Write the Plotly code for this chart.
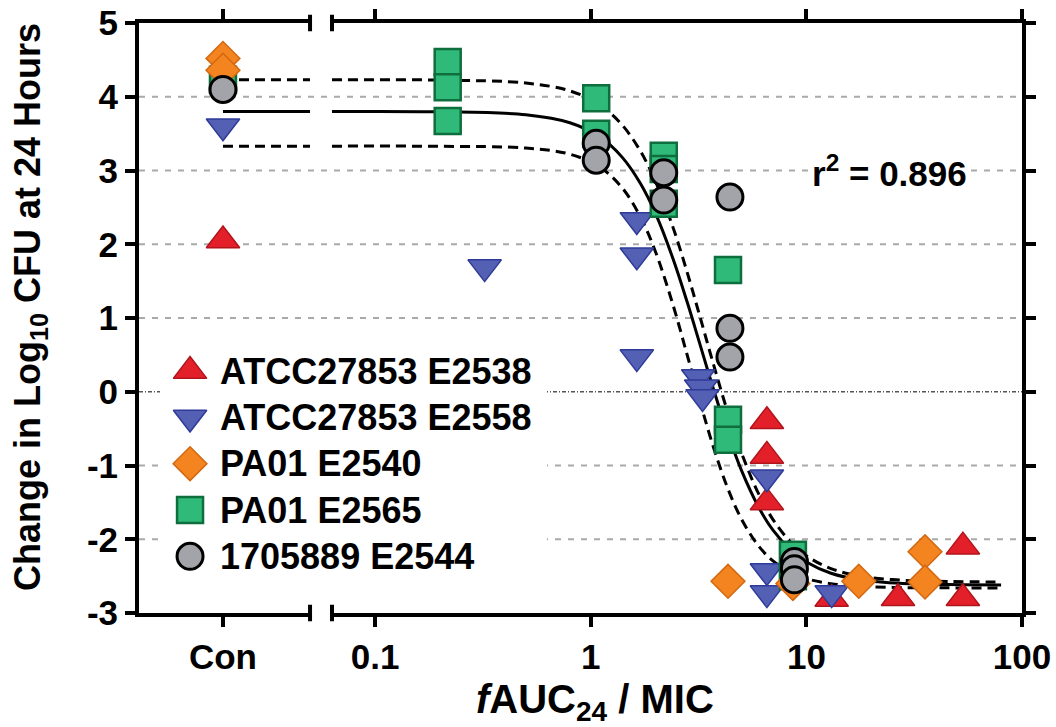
import plotly.graph_objects as go

# ---------------- data ----------------
con_label = "Con"
series_names = ["ATCC27853 E2538", "ATCC27853 E2558", "PA01 E2540", "PA01 E2565", "1705889 E2544"]

red_con_y = [2.05]
red_x = [6.56, 6.56, 6.56, 13.1, 26.6, 53.2, 53.2]
red_y = [-0.40, -0.87, -1.50, -2.81, -2.80, -2.10, -2.80]

blue_con_y = [3.60]
blue_x = [0.322, 1.635, 1.635, 1.635, 3.15, 3.25, 3.30, 6.56, 6.56, 6.56, 13.1]
blue_y = [1.69, 2.33, 1.85, 0.47, 0.20, 0.06, -0.07, -1.16, -2.43, -2.73, -2.73]

orange_con_y = [4.52, 4.36]
orange_x = [4.33, 8.66, 17.5, 35.5, 35.5]
orange_y = [-2.57, -2.60, -2.57, -2.17, -2.58]

green_con_y = [4.23]
green_x = [0.217, 0.217, 0.217, 1.06, 1.06, 2.18, 2.18, 2.18, 4.33, 4.33, 4.33, 8.66, 8.66]
green_y = [4.47, 4.13, 3.67, 3.98, 3.50, 3.20, 3.02, 2.55, 1.65, -0.38, -0.65, -2.21, -2.50]

gray_con_y = [4.10]
gray_x = [1.06, 1.06, 2.18, 2.18, 4.42, 4.42, 4.42, 8.8, 8.8, 8.8]
gray_y = [3.37, 3.14, 2.97, 2.60, 2.64, 0.86, 0.47, -2.30, -2.40, -2.55]

# fitted curve and its confidence band
fit_x = [0.063, 0.2, 0.5, 0.8, 1.1, 1.4, 1.7, 2.0, 2.4, 2.8, 3.2, 3.7, 4.3, 5.0, 6.0, 7.0, 8.5, 10, 13, 18, 28, 45, 80]
fit_y = [3.80, 3.796, 3.755, 3.647, 3.456, 3.178, 2.823, 2.411, 1.814, 1.216, 0.656, 0.044, -0.549, -1.066,
         -1.563, -1.877, -2.154, -2.309, -2.461, -2.552, -2.599, -2.614, -2.619]
upper_y = [4.23, 4.226, 4.186, 4.08, 3.892, 3.616, 3.262, 2.847, 2.239, 1.619, 1.031, 0.38, -0.262, -0.829,
           -1.382, -1.733, -2.047, -2.225, -2.398, -2.502, -2.556, -2.573, -2.579]
lower_y = [3.33, 3.328, 3.304, 3.221, 3.047, 2.763, 2.369, 1.892, 1.189, 0.498, -0.118, -0.745, -1.296, -1.726,
           -2.091, -2.294, -2.454, -2.534, -2.603, -2.639, -2.655, -2.659, -2.66]
con_fit_y = [3.80, 3.80]
con_upper_y = [4.23, 4.23]
con_lower_y = [3.33, 3.33]

y_ticks = [-3, -2, -1, 0, 1, 2, 3, 4, 5]
y_ticktext = ["-3", "-2", "-1", "0", "1", "2", "3", "4", "5"]
x_ticks = [0.1, 1, 10, 100]
x_ticktext = ["0.1", "1", "10", "100"]
r2_text = "r<sup>2</sup> = 0.896"

# ---------------- styles ----------------
FONT = "Liberation Sans, Arial, sans-serif"
styles = [
    dict(symbol="triangle-up", size=29, color="#e3202a", line=dict(color="#b0151c", width=1.5)),
    dict(symbol="triangle-down", size=29, color="#5360b4", line=dict(color="#2e3b98", width=1.5)),
    dict(symbol="diamond", size=26, color="#f3841f", line=dict(color="#d46810", width=1.5)),
    dict(symbol="square", size=26, color="#30ba7a", line=dict(color="#0f6e3e", width=2.5)),
    dict(symbol="circle", size=26, color="#a3a3aa", line=dict(color="#000000", width=3)),
]
con_data = [red_con_y, blue_con_y, orange_con_y, green_con_y, gray_con_y]
log_data = [(red_x, red_y), (blue_x, blue_y), (orange_x, orange_y), (green_x, green_y), (gray_x, gray_y)]

fig = go.Figure()

# fitted lines (under markers)
for ys, cy, dash in [(upper_y, con_upper_y, "10px,6px"), (lower_y, con_lower_y, "10px,6px"), (fit_y, con_fit_y, "solid")]:
    fig.add_trace(go.Scatter(x=[0, 1.3], y=cy, mode="lines", xaxis="x", yaxis="y",
                             line=dict(color="black", width=3, dash=dash), showlegend=False, hoverinfo="skip"))
    fig.add_trace(go.Scatter(x=fit_x, y=ys, mode="lines", xaxis="x2", yaxis="y2",
                             line=dict(color="black", width=3, dash=dash, shape="spline", smoothing=1),
                             showlegend=False, hoverinfo="skip"))

# markers: draw order red, blue, green, orange, gray
for i in [0, 1, 3, 2, 4]:
    st = styles[i]
    fig.add_trace(go.Scatter(x=[0] * len(con_data[i]), y=con_data[i], mode="markers", xaxis="x", yaxis="y",
                             marker=st, name=series_names[i], showlegend=False))
    fig.add_trace(go.Scatter(x=log_data[i][0], y=log_data[i][1], mode="markers", xaxis="x2", yaxis="y2",
                             marker=st, name=series_names[i], showlegend=False))

# custom legend (large symbols) on a hidden full-size axis pair
leg_x = 0.0578
leg_y0 = 0.410
leg_dy = 0.0785
for i, name in enumerate(series_names):
    fig.add_trace(go.Scatter(x=[leg_x], y=[leg_y0 - i * leg_dy], mode="markers", xaxis="x3", yaxis="y3",
                             marker=styles[i], showlegend=False, hoverinfo="skip"))

annotations = []
for i, name in enumerate(series_names):
    annotations.append(dict(x=0.0895, y=leg_y0 - i * leg_dy, xref="paper", yref="paper", xanchor="left",
                            yanchor="middle", text="<b>" + name + "</b>", showarrow=False,
                            font=dict(family=FONT, size=36, color="black")))

annotations.append(dict(x=0.8505, y=0.749, xref="paper", yref="paper", xanchor="center", yanchor="middle",
                        text="<b>" + r2_text + "</b>", showarrow=False, bgcolor="white", borderpad=3,
                        font=dict(family=FONT, size=35, color="black")))
annotations.append(dict(x=-0.1234, y=0.5186, xref="paper", yref="paper", xanchor="center", yanchor="middle",
                        textangle=-90, text="<b>Change in Log<sub>10</sub> CFU at 24 Hours</b>", showarrow=False,
                        font=dict(family=FONT, size=36, color="black")))
annotations.append(dict(x=0.5164, y=-0.150, xref="paper", yref="paper", xanchor="center", yanchor="middle",
                        text="<b><i>f</i>AUC<sub>24</sub> / MIC</b>", showarrow=False,
                        font=dict(family=FONT, size=40, color="black")))

shapes = []
for v in [4, 3, 2, 1, -1, -2]:
    shapes.append(dict(type="line", xref="paper", yref="y", x0=0, x1=1, y0=v, y1=v, layer="below",
                       line=dict(color="#a9a9a9", width=2, dash="6px,7px")))
shapes.append(dict(type="line", xref="paper", yref="y", x0=0, x1=1, y0=0, y1=0, layer="below",
                   line=dict(color="#555555", width=1.5, dash="4px,2px,1px,2px")))
shapes.append(dict(type="rect", xref="paper", yref="paper", x0=0.0238, x1=0.462, y0=0.056, y1=0.4576,
                   fillcolor="white", line=dict(width=0), layer="below"))
# axis-break end caps
d1, d2 = 0.1937, 0.2186
for xx in [d1, d2]:
    for yy in [0, 1]:
        shapes.append(dict(type="line", xref="paper", yref="paper", x0=xx, x1=xx, y0=yy - 0.014, y1=yy + 0.014,
                           line=dict(color="black", width=4)))

axis_common = dict(showline=True, linewidth=4, linecolor="black", ticks="outside", ticklen=10, tickwidth=4,
                   tickcolor="black", showgrid=False, zeroline=False, automargin=False,
                   tickfont=dict(family=FONT, size=35, color="black", weight="bold"))

fig.update_layout(
    template="none",
    width=1056, height=727,
    margin=dict(l=139, r=34, t=23, b=114, autoexpand=False),
    paper_bgcolor="white", plot_bgcolor="rgba(0,0,0,0)",
    showlegend=False,
    font=dict(family=FONT, color="black"),
    xaxis=dict(domain=[0, d1], range=[-0.982, 1.018], tickvals=[0], ticktext=[con_label], mirror="ticks",
               anchor="y", **axis_common),
    xaxis2=dict(domain=[d2, 1], type="log", range=[-1.2, 2], tickvals=x_ticks, ticktext=x_ticktext,
                mirror="ticks", anchor="y2", **axis_common),
    yaxis=dict(domain=[0, 1], range=[-3, 5], tickvals=y_ticks, ticktext=y_ticktext, anchor="x", **axis_common),
    yaxis2=dict(domain=[0, 1], range=[-3, 5], tickvals=y_ticks, ticktext=y_ticktext, anchor="x2", side="right",
                showticklabels=False, **axis_common),
    xaxis3=dict(domain=[0, 1], range=[0, 1], visible=False, anchor="y3", fixedrange=True),
    yaxis3=dict(domain=[0, 1], range=[0, 1], visible=False, anchor="x3", fixedrange=True),
    annotations=annotations,
    shapes=shapes,
)

fig.write_html("out.html")
